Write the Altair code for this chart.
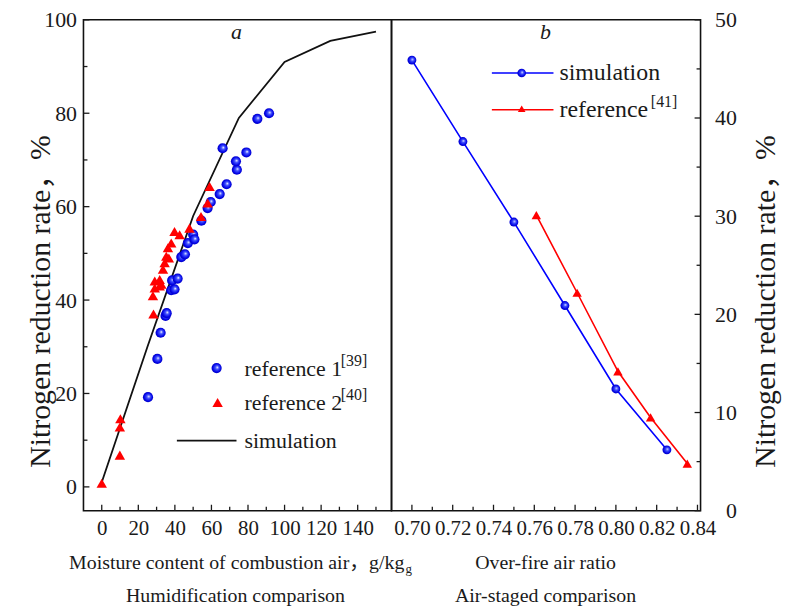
import altair as alt
import pandas as pd

SERIF = "Liberation Serif, 'Noto Sans CJK SC'"
INK = "#1a1a1a"

# ---------------- panel a : humidification ----------------
sim_a_x = [0, 25, 50, 75, 100, 125, 150]
sim_a_y = [1.0, 30.0, 58.0, 79.0, 91.0, 95.5, 97.5]

ref1_x = [25.3, 30.4, 32.2, 34.9, 35.5, 38.0, 39.8, 38.5, 41.5, 43.5, 45.5, 47.1, 50.0,
          50.7, 54.5, 57.9, 59.6, 64.5, 68.3, 73.9, 73.4, 79.1, 66.1, 85.1, 91.5]
ref1_y = [19.2, 27.4, 33.0, 36.6, 37.2, 42.1, 42.3, 44.2, 44.6, 49.2, 49.8, 52.2, 54.0,
          53.0, 57.0, 59.7, 61.0, 62.7, 64.8, 67.9, 69.7, 71.6, 72.5, 78.8, 80.0]

ref2_x = [0.0, 9.9, 9.9, 10.2, 28.3, 28.0, 29.0, 31.7, 29.0, 31.7, 32.6, 33.5, 34.4,
          35.3, 36.7, 36.2, 38.0, 39.8, 42.6, 48.0, 54.3, 57.9, 59.0]
ref2_y = [0.8, 6.8, 12.8, 14.6, 37.0, 40.9, 42.6, 43.0, 44.1, 44.4, 43.4, 46.6, 48.0,
          49.4, 49.0, 51.2, 52.2, 54.7, 54.0, 55.4, 57.9, 60.8, 64.3]

# ---------------- panel b : air staging ----------------
sim_b_x = [0.700, 0.725, 0.750, 0.775, 0.800, 0.825]
sim_b_y = [45.9, 37.6, 29.4, 20.9, 12.4, 6.2]

ref41_x = [0.761, 0.781, 0.801, 0.817, 0.835]
ref41_y = [30.1, 22.2, 14.2, 9.5, 4.8]

# ---------------- ticks ----------------
xa_major = [0, 20, 40, 60, 80, 100, 120, 140]
xa_minor = [10, 30, 50, 70, 90, 110, 130, 150]
ya_major = [0, 20, 40, 60, 80, 100]
ya_minor = [10, 30, 50, 70, 90]
xb_major = [0.70, 0.72, 0.74, 0.76, 0.78, 0.80, 0.82, 0.84]
xb_minor = [0.71, 0.73, 0.75, 0.77, 0.79, 0.81, 0.83]
yb_major = [0, 10, 20, 30, 40, 50]
yb_minor = [5, 15, 25, 35, 45]

WA, WB, H = 310, 311, 494
MAJ, MIN = 6, 4

xa_scale = alt.Scale(domain=[-10, 158.5], nice=False, zero=False)
ya_scale = alt.Scale(domain=[-5.1, 100], nice=False, zero=False)
xb_scale = alt.Scale(domain=[0.69, 0.8415], nice=False, zero=False)
yb_scale = alt.Scale(domain=[0, 50], nice=False, zero=False)

common = dict(ticks=False, domain=False, grid=False, labelFont=SERIF, labelColor=INK,
              labelOverlap=False, labelFlush=False)

YTITLE = "Nitrogen reduction rate，%"

ax_xa = alt.Axis(values=xa_major, labelFontSize=21, labelPadding=7, title=None, **common)
ax_ya = alt.Axis(values=ya_major, labelFontSize=22, labelPadding=7,
                 title=YTITLE, titleFont=SERIF, titleFontSize=30,
                 titleFontWeight="normal", titleColor=INK, titleAngle=270, titleX=-43,
                 titleY=H / 2 + 36, titleAlign="center", titleBaseline="middle", **common)
ax_xb = alt.Axis(values=xb_major, format=".2f", labelFontSize=21, labelPadding=7,
                 title=None, **common)
ax_yb = alt.Axis(values=yb_major, orient="right", labelFontSize=22, labelPadding=36,
                 labelAlign="right",
                 title=YTITLE, titleFont=SERIF, titleFontSize=30,
                 titleFontWeight="normal", titleColor=INK, titleAngle=270, titleX=65,
                 titleY=H / 2 + 36, titleAlign="center", titleBaseline="middle", **common)


def X(scale, axis):
    return alt.X("x:Q", scale=scale, axis=axis)


def Y(scale, axis):
    return alt.Y("y:Q", scale=scale, axis=axis)


def ball(size):
    grad = alt.RadialGradient(
        gradient="radial",
        stops=[alt.GradientStop(color="#ffffff", offset=0),
               alt.GradientStop(color="#4455ff", offset=0.3),
               alt.GradientStop(color="#0000e6", offset=0.75),
               alt.GradientStop(color="#0000b0", offset=1)],
        x1=0.58, y1=0.42, r1=0, x2=0.5, y2=0.5, r2=0.55)
    return dict(shape="circle", filled=True, fill=grad, size=size, opacity=1, strokeWidth=0)


def text(t, x, y, size, **kw):
    return alt.Chart(pd.DataFrame({"t": [t]})).mark_text(
        font=SERIF, fontSize=size, color=INK, **kw
    ).encode(x=alt.value(x), y=alt.value(y), text="t:N")


def yticks(vals, scale, axis, x0, x1):
    return alt.Chart(pd.DataFrame({"y": vals})).mark_rule(color=INK, strokeWidth=1.3).encode(
        y=Y(scale, axis), x=alt.value(x0), x2=alt.value(x1))


def xticks(vals, scale, axis, length):
    return alt.Chart(pd.DataFrame({"x": vals})).mark_rule(color=INK, strokeWidth=1.3).encode(
        x=X(scale, axis), y=alt.value(H), y2=alt.value(H - length))


# ---------------- panel a layers ----------------
sim_a = alt.Chart(pd.DataFrame({"x": sim_a_x, "y": sim_a_y})).mark_line(
    color="#111111", strokeWidth=1.8).encode(x=X(xa_scale, ax_xa), y=Y(ya_scale, ax_ya))
r1 = alt.Chart(pd.DataFrame({"x": ref1_x, "y": ref1_y})).mark_point(**ball(105)).encode(
    x=X(xa_scale, ax_xa), y=Y(ya_scale, ax_ya))
r2 = alt.Chart(pd.DataFrame({"x": ref2_x, "y": ref2_y})).mark_point(
    shape="triangle-up", filled=True, color="#ff0000", size=110, opacity=1).encode(
    x=X(xa_scale, ax_xa), y=Y(ya_scale, ax_ya))

leg_a = [
    alt.Chart(pd.DataFrame({"t": ["r1"]})).mark_point(**ball(105)).encode(
        x=alt.value(134), y=alt.value(350.5)),
    alt.Chart(pd.DataFrame({"t": ["r2"]})).mark_point(
        shape="triangle-up", filled=True, color="#ff0000", size=110, opacity=1).encode(
        x=alt.value(135), y=alt.value(385)),
    alt.Chart(pd.DataFrame({"t": ["s"]})).mark_rule(color="#111111", strokeWidth=1.8).encode(
        x=alt.value(94), x2=alt.value(154), y=alt.value(423.5)),
    text("reference 1", 162, 351, 22, align="left", baseline="middle"),
    text("[39]", 259, 343, 16, align="left", baseline="middle"),
    text("reference 2", 162, 386, 22, align="left", baseline="middle"),
    text("[40]", 259, 378, 16, align="left", baseline="middle"),
    text("simulation", 162, 423.5, 22, align="left", baseline="middle"),
    text("a", 154, 12, 22, align="center", baseline="middle", fontStyle="italic"),
    text("Moisture content of combustion air，g/kg", 323, 546.5, 20, align="right",
         baseline="middle"),
    text("g", 324, 553, 13, align="left", baseline="middle"),
    text("Humidification comparison", 153, 579.5, 20, align="center", baseline="middle"),
]

ticks_a = [
    yticks(ya_major, ya_scale, ax_ya, 0, MAJ),
    yticks(ya_minor, ya_scale, ax_ya, 0, MIN),
    xticks(xa_major, xa_scale, ax_xa, MAJ),
    xticks(xa_minor, xa_scale, ax_xa, MIN),
]

panel_a = alt.layer(sim_a, r1, r2, *ticks_a, *leg_a).properties(width=WA, height=H)

# ---------------- panel b layers ----------------
sim_b_line = alt.Chart(pd.DataFrame({"x": sim_b_x, "y": sim_b_y})).mark_line(
    color="#0000ff", strokeWidth=1.6).encode(x=X(xb_scale, ax_xb), y=Y(yb_scale, ax_yb))
sim_b_pts = alt.Chart(pd.DataFrame({"x": sim_b_x, "y": sim_b_y})).mark_point(**ball(80)).encode(
    x=X(xb_scale, ax_xb), y=Y(yb_scale, ax_yb))
ref_b_line = alt.Chart(pd.DataFrame({"x": ref41_x, "y": ref41_y})).mark_line(
    color="#ff0000", strokeWidth=1.6).encode(x=X(xb_scale, ax_xb), y=Y(yb_scale, ax_yb))
ref_b_pts = alt.Chart(pd.DataFrame({"x": ref41_x, "y": ref41_y})).mark_point(
    shape="triangle-up", filled=True, color="#ff0000", size=90, opacity=1).encode(
    x=X(xb_scale, ax_xb), y=Y(yb_scale, ax_yb))

leg_b = [
    alt.Chart(pd.DataFrame({"t": ["s"]})).mark_rule(color="#0000ff", strokeWidth=1.6).encode(
        x=alt.value(101), x2=alt.value(163), y=alt.value(53.5)),
    alt.Chart(pd.DataFrame({"t": ["s"]})).mark_point(**ball(75)).encode(
        x=alt.value(131), y=alt.value(53.5)),
    alt.Chart(pd.DataFrame({"t": ["r"]})).mark_rule(color="#ff0000", strokeWidth=1.6).encode(
        x=alt.value(101), x2=alt.value(163), y=alt.value(90.5)),
    alt.Chart(pd.DataFrame({"t": ["r"]})).mark_point(
        shape="triangle-up", filled=True, color="#ff0000", size=60, opacity=1).encode(
        x=alt.value(131), y=alt.value(89.5)),
    text("simulation", 169, 54, 24, align="left", baseline="middle"),
    text("reference", 169, 91, 24, align="left", baseline="middle"),
    text("[41]", 261, 83, 16, align="left", baseline="middle"),
    text("b", 155, 12, 22, align="center", baseline="middle", fontStyle="italic"),
    text("Over-fire air ratio", 155, 546.5, 20, align="center", baseline="middle"),
    text("Air-staged comparison", 155, 579.5, 20, align="center", baseline="middle"),
]

ticks_b = [
    yticks(yb_major, yb_scale, ax_yb, WB - MAJ, WB),
    yticks(yb_minor, yb_scale, ax_yb, WB - MIN, WB),
    xticks(xb_major, xb_scale, ax_xb, MAJ),
    xticks(xb_minor, xb_scale, ax_xb, MIN),
]

panel_b = alt.layer(sim_b_line, ref_b_line, sim_b_pts, ref_b_pts, *ticks_b, *leg_b).properties(
    width=WB, height=H)

chart = alt.hconcat(panel_a, panel_b, spacing=0, bounds="flush").properties(
    padding={"left": 25, "top": 6, "right": 5, "bottom": 5}, background="white"
).configure_view(stroke="#111111", strokeWidth=1.6)

chart.save("out.html", embed_options={"renderer": "svg", "actions": False})
